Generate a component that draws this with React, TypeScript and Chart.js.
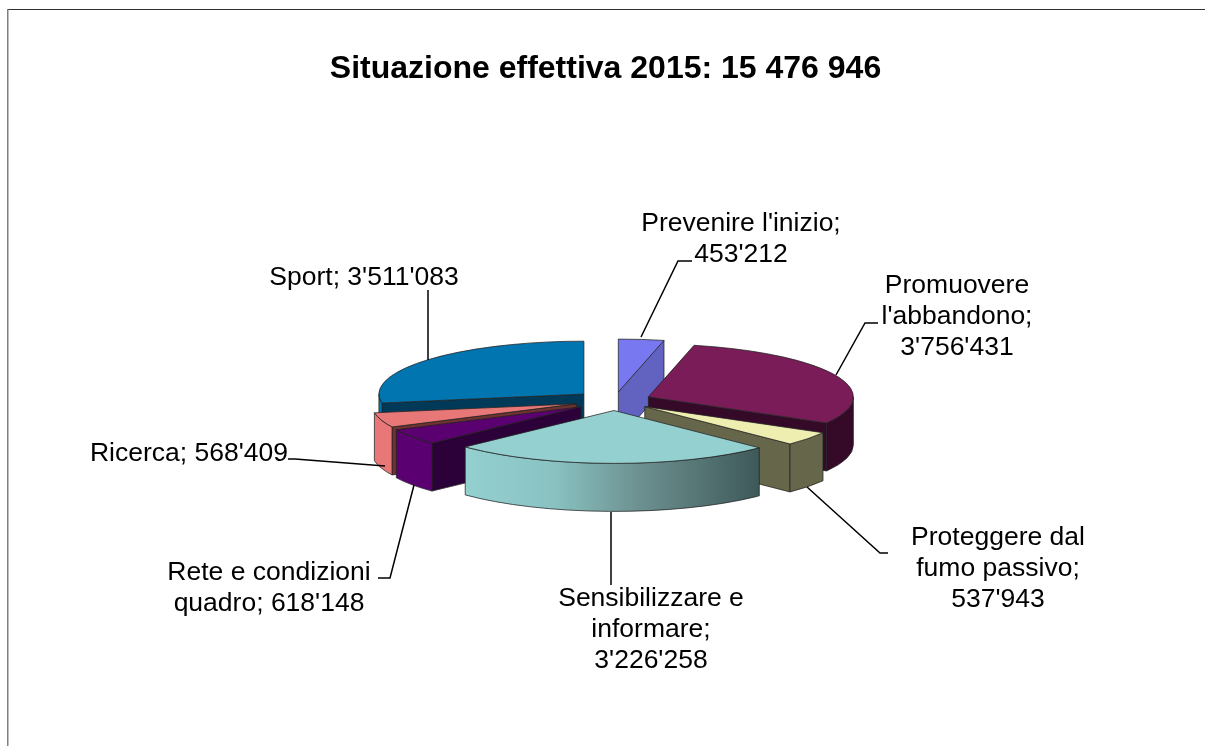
import React, { useEffect, useRef } from "react";
import { Chart, registerables } from "chart.js";

Chart.register(...registerables);

const titleText = "Situazione effettiva 2015: 15 476 946";
const categories = [
  "Prevenire l'inizio",
  "Promuovere l'abbandono",
  "Proteggere dal fumo passivo",
  "Sensibilizzare e informare",
  "Rete e condizioni quadro",
  "Ricerca",
  "Sport",
];
const values = [453212, 3756431, 537943, 3226258, 618148, 568409, 3511083];
const valueLabels = ["453'212", "3'756'431", "537'943", "3'226'258", "618'148", "568'409", "3'511'083"];
const topColors = ["#7878F0", "#7A1C58", "#EEEEB0", "#94D0D0", "#5A0070", "#E87878", "#0075B0"];
const radialColors = ["#6262C0", "#340A28", "#66664A", "#3E5959", "#2C0038", "#6E3230", "#003A58"];
const outerColors = ["#6262C0", "#340A28", "#66664A", "gradient", "#5A0070", "#E87878", "#0075B0"];
const explosions = [34, 37, 38, 38, 41, 40, 40];

// per-label text lines
const labelLines = [
  ["Prevenire l'inizio;", valueLabels[0]],
  ["Promuovere", "l'abbandono;", valueLabels[1]],
  ["Proteggere dal", "fumo passivo;", valueLabels[2]],
  ["Sensibilizzare e", "informare;", valueLabels[3]],
  ["Rete e condizioni", "quadro; " + valueLabels[4]],
  ["Ricerca; " + valueLabels[5]],
  ["Sport; " + valueLabels[6]],
];
const labelCenters = [
  [741, 224], [957, 286], [998, 538], [651, 599], [269, 573], [189, 454], [364, 278],
];
const leaders = [
  [[641, 337], [678, 261], [692, 261]],
  [[836, 375], [865, 323], [878, 323]],
  [[807, 487], [880, 553], [888, 553]],
  [[611, 512], [611, 585]],
  [[414, 485], [390, 578], [378, 578]],
  [[385, 466], [295, 459], [288, 459]],
  [[428, 360], [428, 290]],
];

const TILT = 0.258;
const DEPTH = 48;
const SHIFT_X = 9;
const RADIUS = 205;
const LINE_H = 30.7;
const EDGE = "rgba(35,35,35,0.75)";

const pie3d = {
  id: "pie3d",
  beforeDatasetsDraw(chart: any) {
    const ctx = chart.ctx as CanvasRenderingContext2D;
    const arcs = chart.getDatasetMeta(0).data as any[];
    const geo = arcs.map((arc, i) => {
      const mid = (arc.startAngle + arc.endAngle) / 2;
      const e = explosions[i];
      const px = arc.x + SHIFT_X + e * Math.cos(mid);
      const py = arc.y + TILT * e * Math.sin(mid);
      return { arc, i, mid, px, py, r: arc.outerRadius, a0: arc.startAngle, a1: arc.endAngle };
    });
    const order = [...geo].sort((a, b) => Math.sin(a.mid) - Math.sin(b.mid));
    const pt = (g: any, a: number) => [g.px + g.r * Math.cos(a), g.py + g.r * TILT * Math.sin(a)];

    const ellipsePath = (g: any, a: number, b: number, dy: number, ccw: boolean) => {
      ctx.ellipse(g.px, g.py + dy, g.r, g.r * TILT, 0, a, b, ccw);
    };

    for (const g of order) {
      ctx.lineWidth = 1;
      ctx.strokeStyle = EDGE;
      // radial faces turned to the viewer
      const faces = [
        { a: g.a0, normal: g.a0 - Math.PI / 2 },
        { a: g.a1, normal: g.a1 + Math.PI / 2 },
      ];
      for (const f of faces) {
        if (Math.sin(f.normal) <= 0) continue;
        const p = pt(g, f.a);
        ctx.beginPath();
        ctx.moveTo(g.px, g.py);
        ctx.lineTo(p[0], p[1]);
        ctx.lineTo(p[0], p[1] + DEPTH);
        ctx.lineTo(g.px, g.py + DEPTH);
        ctx.closePath();
        ctx.fillStyle = radialColors[g.i];
        ctx.fill();
        ctx.stroke();
      }
      // outer wall, only the part turned to the viewer
      const f0 = Math.max(g.a0, 0);
      const f1 = Math.min(g.a1, Math.PI);
      if (f1 > f0) {
        ctx.beginPath();
        ellipsePath(g, f0, f1, 0, false);
        ellipsePath(g, f1, f0, DEPTH, true);
        ctx.closePath();
        let fill: any = outerColors[g.i];
        if (fill === "gradient") {
          const xa = pt(g, f1)[0];
          const xb = pt(g, f0)[0];
          const gr = ctx.createLinearGradient(xa, 0, xb, 0);
          gr.addColorStop(0, "#94D0D0");
          gr.addColorStop(0.3, "#8AC2C2");
          gr.addColorStop(0.6, "#6C8F8F");
          gr.addColorStop(1, "#3E5959");
          fill = gr;
        }
        ctx.fillStyle = fill;
        ctx.fill();
        ctx.stroke();
      }
      // top face: the library's own arc element on the tilted plane
      ctx.save();
      ctx.translate(g.px, g.py);
      ctx.scale(1, TILT);
      ctx.translate(-g.arc.x, -g.arc.y);
      g.arc.draw(ctx);
      ctx.restore();
      ctx.beginPath();
      ctx.moveTo(g.px, g.py);
      ellipsePath(g, g.a0, g.a1, 0, false);
      ctx.closePath();
      ctx.strokeStyle = EDGE;
      ctx.stroke();
    }
    return false;
  },
  afterDraw(chart: any) {
    const ctx = chart.ctx as CanvasRenderingContext2D;
    ctx.save();
    // frame
    ctx.fillStyle = "#303030";
    ctx.fillRect(8, 9, 1197, 1);
    ctx.fillStyle = "#808080";
    ctx.fillRect(7, 9, 1.5, 737);
    // leaders
    ctx.strokeStyle = "#000";
    ctx.lineWidth = 1.5;
    for (const l of leaders) {
      ctx.beginPath();
      l.forEach((p, i) => (i ? ctx.lineTo(p[0], p[1]) : ctx.moveTo(p[0], p[1])));
      ctx.stroke();
    }
    // labels
    ctx.fillStyle = "#000";
    ctx.font = "26.5px 'Liberation Sans', Arial, sans-serif";
    ctx.textAlign = "center";
    ctx.textBaseline = "middle";
    labelLines.forEach((lines, i) => {
      lines.forEach((t, j) => {
        ctx.fillText(t, labelCenters[i][0], labelCenters[i][1] + j * LINE_H);
      });
    });
    ctx.restore();
  },
};

export default function App() {
  const ref = useRef<HTMLCanvasElement>(null);
  useEffect(() => {
    const chart = new Chart(ref.current as HTMLCanvasElement, {
      type: "pie",
      data: {
        labels: categories,
        datasets: [{ data: values, backgroundColor: topColors, borderWidth: 0, hoverOffset: 0 }],
      },
      options: {
        responsive: false,
        animation: false,
        events: [],
        radius: RADIUS,
        layout: { padding: { top: 0, bottom: 45, left: 6, right: 0 } },
        plugins: {
          legend: { display: false },
          tooltip: { enabled: false },
          title: {
            display: true,
            text: titleText,
            color: "#000",
            font: { family: "'Liberation Sans', Arial, sans-serif", size: 32, weight: "bold" },
            padding: { top: 50, bottom: 12 },
          },
        },
      } as any,
      plugins: [pie3d as any],
    });
    return () => chart.destroy();
  }, []);
  return (
    <div style={{ position: "fixed", left: 0, top: 0, width: 1205, height: 746, background: "#fff", overflow: "hidden" }}>
      <canvas ref={ref} width={1205} height={746} style={{ display: "block" }} />
    </div>
  );
}
